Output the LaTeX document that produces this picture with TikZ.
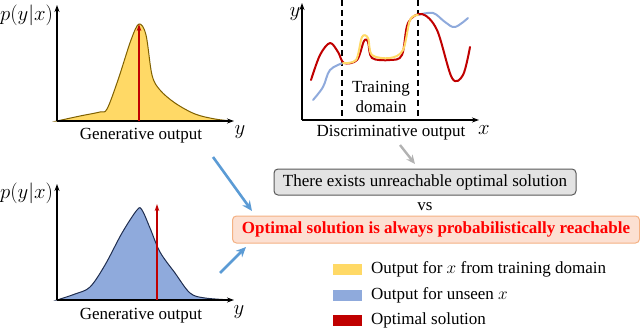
\documentclass[tikz,border=0pt]{standalone}
\usepackage{fontspec}
\setmainfont{Liberation Serif}
\usetikzlibrary{arrows.meta}
\definecolor{yfill}{HTML}{FFD966}
\definecolor{yline}{HTML}{7F6000}
\definecolor{bfill}{HTML}{8FAADC}
\definecolor{bline}{HTML}{1F2D4F}
\definecolor{dred}{HTML}{C00000}
\definecolor{arrblue}{HTML}{5B9BD5}
\definecolor{ylw}{HTML}{FFD966}
\definecolor{boxgray}{HTML}{E3E3E3}
\definecolor{boxpeach}{HTML}{FCE0D2}
\definecolor{boxorange}{HTML}{F4B183}
\begin{document}
\begin{tikzpicture}[x=1pt,y=-1pt,
  lbl/.style={font=\fontsize{17}{19}\selectfont, inner sep=0pt},
  mlbl/.style={font=\fontsize{20}{22}\selectfont, inner sep=0pt},
  axis/.style={line width=1.6pt,-{Stealth[length=7pt,width=5pt]}},
  optarrow/.style={dred,line width=1.3pt,-{Stealth[length=7pt,width=4.5pt]}},
  bigarrow/.style={arrblue,line width=2.6pt,-{Stealth[length=10pt,width=9pt]}},
  grayarrow/.style={gray!60,line width=2.4pt,-{Stealth[length=9pt,width=8pt]}},
  curve/.style={line width=2pt,line cap=round,line join=round},
  swatch/.style={minimum width=29pt,minimum height=11pt,inner sep=0pt}
]
\useasboundingbox (0,0) rectangle (640,329);

% ---------- top-left generative plot ----------
\coordinate (o1) at (57,121);
\coordinate (t1) at (57,5);
\coordinate (r1) at (234,121);
\fill[yfill,draw=yline,line width=1pt] plot[smooth,tension=0.55] coordinates
  {(57,121) (80,116) (100,112) (107,109) (118,80) (131,40) (139,24) (146,35) (152,75) (160,90) (175,103) (195,114) (215,119) (232,121)} -- cycle;
\draw[axis] (o1) -- (t1);
\draw[axis] (o1) -- (r1);
\coordinate (p1b) at (139,121);
\coordinate (p1t) at (139,24);
\draw[optarrow] (p1b) -- (p1t);
\node[mlbl,anchor=west] (py1) at (0,15) {$p(y|x)$};
\node[mlbl] (y1) at (240,132) {$y$};
\node[lbl] (gen1) at (141,136) {Generative output};

% ---------- bottom-left generative plot ----------
\coordinate (o2) at (57,300);
\coordinate (t2) at (57,184);
\coordinate (r2) at (234,300);
\fill[bfill,draw=bline,line width=1pt] plot[smooth,tension=0.55] coordinates
  {(57,300) (75,294) (90,287) (105,265) (122,233) (137,210) (142,210) (150,228) (160,252) (175,273) (190,293) (205,298) (232,300)} -- cycle;
\draw[axis] (o2) -- (t2);
\draw[axis] (o2) -- (r2);
\coordinate (p2b) at (157,300);
\coordinate (p2t) at (157,204);
\draw[optarrow] (p2b) -- (p2t);
\node[mlbl,anchor=west] (py2) at (0,193) {$p(y|x)$};
\node[mlbl] (y2) at (239,312) {$y$};
\node[lbl] (gen2) at (141,316) {Generative output};

% ---------- top-right discriminative plot ----------
\coordinate (o3) at (302,120);
\coordinate (t3) at (302,3);
\coordinate (r3) at (479,120);
\draw[line width=1.6pt,dash pattern=on 6pt off 4pt] (342,0) -- (342,120);
\draw[line width=1.6pt,dash pattern=on 6pt off 4pt] (418,0) -- (418,120);
% blue (unseen)
\draw[bfill,curve] plot[smooth,tension=0.6] coordinates
  {(313,100) (323,87) (330,70) (343,63)};
\draw[bfill,curve] plot[smooth,tension=0.6] coordinates
  {(418,15) (433,13) (445,22) (455,27) (468,18)};
% red (optimal)
\draw[dred,curve] plot[smooth,tension=0.55] coordinates
  {(311,80) (320,55) (330,43) (338,52) (344,63) (357,60) (364,41) (368,42) (372,58) (390,60) (402,55) (408,23) (422,14) (437,30) (452,78) (463,75) (470,47)};
% yellow (training domain)
\draw[ylw,curve] plot[smooth,tension=0.55] coordinates
  {(343,63) (356,60) (362,37) (368,38) (372,55) (390,58) (403,50) (410,20) (418,15)};
\draw[axis] (o3) -- (t3);
\draw[axis] (o3) -- (r3);
\node[mlbl] (y3) at (295,14) {$y$};
\node[mlbl] (x3) at (484,130) {$x$};
\node[lbl,align=center] (td) at (381,97) {Training\\[1pt]domain};
\node[lbl] (disc) at (391,133) {Discriminative output};

% ---------- boxes ----------
\node[lbl,draw=gray!70!black,fill=boxgray,rounded corners=4pt,line width=1pt,
  minimum width=302pt,minimum height=26pt] (gbox) at (425,182)
  {There exists unreachable optimal solution};
\node[lbl] (vs) at (425,207) {vs};
\node[lbl,draw=boxorange,fill=boxpeach,rounded corners=4pt,line width=1pt,
  minimum width=407pt,minimum height=27pt,text=red,font=\fontsize{17}{19}\selectfont\bfseries] (rbox) at (436,229.5)
  {Optimal solution is always probabilistically reachable};

% ---------- arrows ----------
\coordinate (ga) at (400,145);
\draw[grayarrow] (ga) -- (415,164);
\coordinate (ba1) at (213,157);
\coordinate (ba1e) at (252,211);
\draw[bigarrow] (ba1) -- (ba1e);
\coordinate (ba2) at (220,273);
\coordinate (ba2e) at (246,247);
\draw[bigarrow] (ba2) -- (ba2e);

% ---------- legend ----------
\node[swatch,fill=ylw] (s1) at (347.5,269) {};
\node[swatch,fill=bfill] (s2) at (347.5,295) {};
\node[swatch,fill=dred] (s3) at (347.5,320) {};
\node[lbl,anchor=west] (l1) at (371,269) {Output for $x$ from training domain};
\node[lbl,anchor=west] (l2) at (371,295) {Output for unseen $x$};
\node[lbl,anchor=west] (l3) at (371,320) {Optimal solution};
\end{tikzpicture}
\end{document}
